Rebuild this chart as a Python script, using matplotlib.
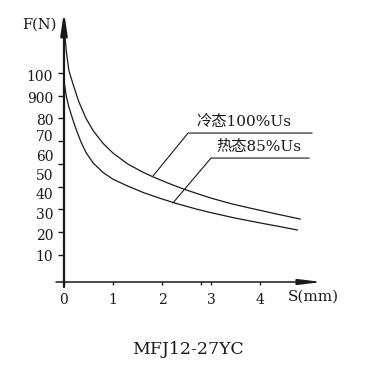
import matplotlib
matplotlib.use("Agg")
import matplotlib.pyplot as plt

# cold state, 100% Us
s_cold = [0.015, 0.05, 0.1, 0.2, 0.3, 0.45, 0.6, 0.8, 1.0, 1.3, 1.6, 1.8,
          2.1, 2.4, 2.7, 3.0, 3.4, 3.8, 4.3, 4.82]
f_cold = [107, 99, 91, 84, 77.5, 70, 64.5, 59, 54.8, 50, 46.5, 44.5,
          41.8, 39.3, 37.1, 35, 32.6, 30.6, 28.2, 25.8]

# hot state, 85% Us
s_hot = [0.01, 0.05, 0.1, 0.18, 0.26, 0.35, 0.45, 0.6, 0.8, 1.0, 1.28, 1.6,
         1.96, 2.3, 2.7, 3.0, 3.5, 4.0, 4.4, 4.76]
f_hot = [85, 79.5, 75, 69.5, 64.5, 59.5, 55, 50.3, 46.2, 43.3, 40.5, 37.6,
         34.9, 32.6, 30.2, 28.6, 26.2, 24.1, 22.5, 21]

x_ticks = [0, 1, 2, 3, 4]
y_tick_marks = [10, 20, 30, 40, 50, 60, 70, 80, 90]
y_labels = ["100", "900", "80", "70", "60", "50", "40", "30", "20", "10"]
y_label_pos = [89.1, 79.3, 69.7, 62.4, 53.9, 45.2, 37.1, 28.3, 18.9, 9.9]

label_cold = "冷态100%Us"
label_hot = "热态85%Us"
title = "MFJ12-27YC"

fam = ["DejaVu Serif", "Noto Sans CJK SC"]
plt.rcParams["font.family"] = fam

fig = plt.figure(figsize=(3.79, 3.67), dpi=100)
ax = fig.add_axes([64 / 379, 85 / 367, 258 / 379, 270 / 367])
ax.set_xlim(0, 5.265)
ax.set_ylim(-1.87, 116.8)
for sp in ax.spines.values():
    sp.set_visible(False)

ink = "#1a1a1a"

# axis lines with arrows
ax.annotate("", xy=(5.265, -1.87), xytext=(-0.163, -1.87),
            arrowprops=dict(arrowstyle="-|>,head_length=1.4,head_width=0.17",
                            mutation_scale=10, lw=1.1, color=ink,
                            shrinkA=0, shrinkB=0), annotation_clip=False)
ax.annotate("", xy=(0, 116.8), xytext=(0, -4.1),
            arrowprops=dict(arrowstyle="-|>,head_length=1.3,head_width=0.2",
                            mutation_scale=10, lw=1.6, color=ink,
                            shrinkA=0, shrinkB=0), annotation_clip=False)

# curves
ax.plot(s_cold, f_cold, color=ink, lw=0.9)
ax.plot(s_hot, f_hot, color=ink, lw=0.9)

# leader lines and labels
ax.plot([1.816, 2.531, 5.06], [44.7, 63.6, 63.6], color=ink, lw=0.8)
ax.text(3.67, 65.2, label_cold, ha="center", va="bottom", fontsize=11,
        family=fam, color=ink)
ax.plot([2.224, 3.0, 5.0], [32.9, 52.6, 52.6], color=ink, lw=0.8)
ax.text(3.97, 54.2, label_hot, ha="center", va="bottom", fontsize=11,
        family=fam, color=ink)

# ticks
ax.set_yticks(y_label_pos, y_labels)
ax.set_yticks(y_tick_marks, minor=True)
ax.tick_params(axis="y", which="major", length=0, pad=7.8, labelsize=10,
               labelcolor=ink)
ax.tick_params(axis="y", which="minor", direction="out", length=4.3,
               width=1.0, color=ink)
ax.set_xticks(x_ticks, [str(v) for v in x_ticks])
ax.set_xticks([2.79], minor=True)
ax.tick_params(axis="x", which="both", direction="out", length=2.3,
               width=1.0, color=ink, pad=5.5, labelsize=10, labelcolor=ink)

ax.text(-0.143, 111.1, "F(N)", ha="right", va="center", fontsize=10.5,
        color=ink)
ax.text(4.571, -8.46, "S(mm)", ha="left", va="center", fontsize=11,
        color=ink)

fig.text(188 / 379, 1 - 349 / 367, title, ha="center", va="center",
         fontsize=12.5, color=ink)

fig.savefig("out.png", dpi=100)
